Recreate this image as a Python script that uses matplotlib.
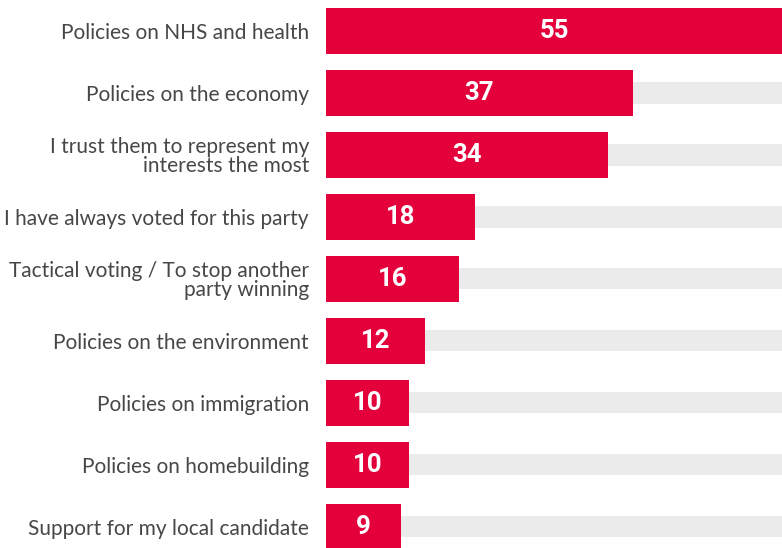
import numpy as np
import matplotlib.pyplot as plt

categories = [
    "Policies on NHS and health",
    "Policies on the economy",
    "I trust them to represent my\ninterests the most",
    "I have always voted for this party",
    "Tactical voting / To stop another\nparty winning",
    "Policies on the environment",
    "Policies on immigration",
    "Policies on homebuilding",
    "Support for my local candidate",
]
values = [55, 37, 34, 18, 16, 12, 10, 10, 9]

red = "#E4003B"
track = "#EBEBEB"

fig = plt.figure(figsize=(7.82, 5.48), dpi=100)
ax = fig.add_axes([326 / 782, 0, 456 / 782, 1])

y = np.arange(len(categories))
xmax = max(values)

# grey track behind each bar
ax.barh(y, [xmax] * len(y), height=0.34, color=track, zorder=1)
ax.barh(y, values, height=0.742, color=red, zorder=2)

for yi, v in zip(y, values):
    ax.text(v / 2, yi, str(v), ha="center", va="center", color="white",
            fontsize=18.5, fontweight="bold", family="Roboto", zorder=3)

for yi, lab in zip(y, categories):
    ax.text(-0.0373, yi + 0.03, lab, transform=ax.get_yaxis_transform(),
            ha="right", va="center", color="#474747", fontsize=15,
            family="Lato", linespacing=0.92)

ax.set_xlim(0, xmax)
ax.set_ylim(8.34, -0.5)
ax.axis("off")

fig.savefig("out.png", dpi=100)
